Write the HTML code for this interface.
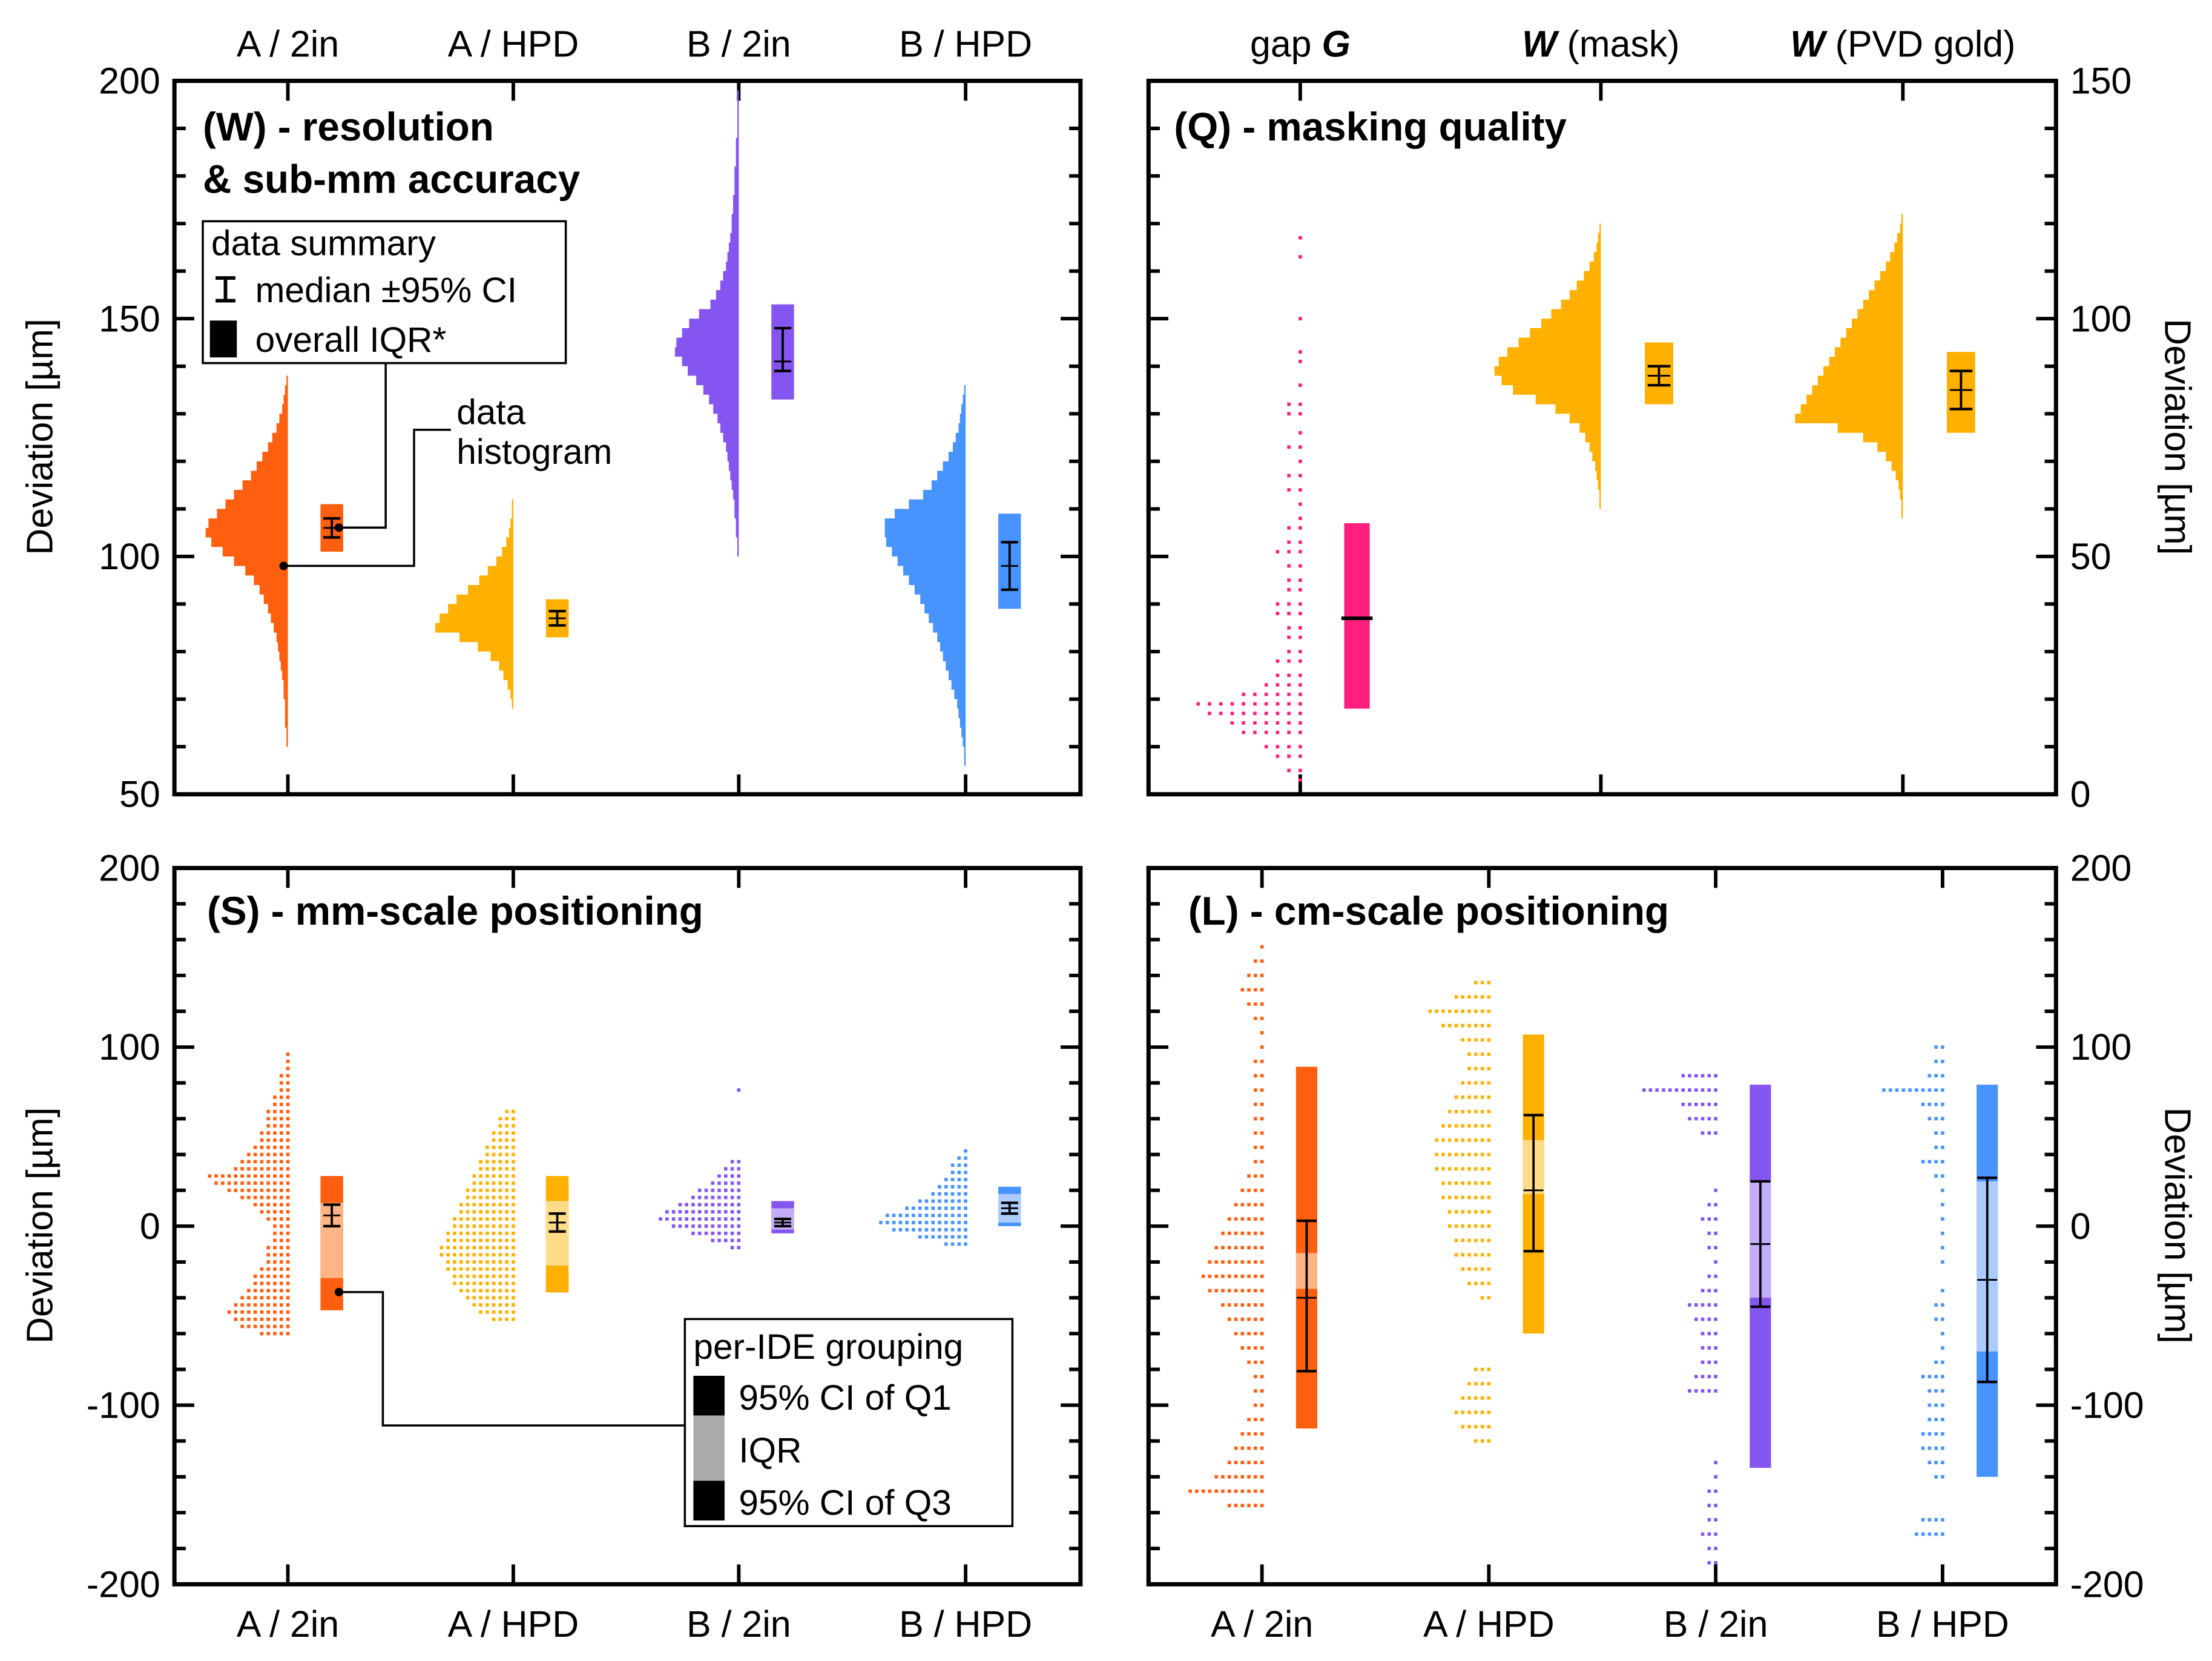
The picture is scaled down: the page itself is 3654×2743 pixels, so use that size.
<!DOCTYPE html>
<html><head><meta charset="utf-8"><style>
html,body{margin:0;padding:0;background:#fff}
svg{display:block}
text{font-family:"Liberation Sans",Arial,sans-serif;fill:#000}
</style></head><body>
<svg id="chart" width="3654" height="2743" viewBox="0 0 1560 1171.1" xmlns="http://www.w3.org/2000/svg"></svg>
<script>
// ---------- DATA ----------
const catsTop = ["A / 2in","A / HPD","B / 2in","B / HPD"];
const catsQ = ["gap","(mask)","(PVD gold)"];
// W histograms: [startValue, binWidth]
const wHistStart = [60,68,100,56];
const wHistCounts = [
 [1,1,2,2,2,3,3,4,5,6,7,8,10,12,14,17,20,24,30,38,46,54,58,56,50,44,38,32,26,22,18,14,11,8,6,4,3,2,1],
 [1,2,4,7,10,16,25,38,55,52,46,40,32,24,18,12,8,5,3,2,1,1],
 [1,1,2,2,3,3,4,5,6,7,8,9,11,13,15,18,21,25,30,36,40,45,44,40,35,28,20,16,13,11,9,8,7,6,5,5,4,4,3,3,3,2,2,2,1,1,1,1,1],
 [1,1,2,3,4,5,6,8,10,12,14,16,18,20,23,26,29,32,36,40,44,48,52,56,57,57,50,40,30,24,20,16,12,9,7,5,4,3,2,1]
];
const wIqrLo=[101,83,133,89], wIqrHi=[111,91,153,109];
const wMed=[106,87,141,98], wCiLo=[104,85.5,139,93], wCiHi=[108,88.5,148,103];
// Q panel
const qGapLevels=[3,5,8,10,13,15,17,19,21,23,25,28,30,33,35,38,40,43,45,48,51,53,56,58,61,64,67,70,73,76,80,82,86,91,93,100,113,117];
const qGapCounts=[1,2,3,4,6,7,9,10,6,4,3,3,2,2,2,3,3,2,2,2,3,2,2,1,1,2,2,1,2,1,2,2,1,1,1,1,1,1];
const qHistStart=[60,58];
const qHistCounts=[
 [1,1,2,3,4,6,8,11,15,22,32,46,62,70,75,72,66,58,50,42,35,28,22,17,12,8,5,3,2,1],
 [1,1,2,3,5,8,12,18,28,46,76,72,68,64,60,56,52,48,44,40,36,32,28,24,20,16,12,9,6,4,2,1]
];
const qIqrLo=[18,82,76], qIqrHi=[57,95,93], qMed=[37,88,85], qCiLo=[37,86,81], qCiHi=[37,90,89];
// S panel (dot rows, step 4 units)
const sStart=[-60,-52,-12,-10];
const sCounts=[
 [5,8,9,10,9,8,7,6,6,5,4,4,4,3,3,3,4,5,6,8,10,12,13,9,8,7,6,5,5,4,4,4,3,3,2,2,2,1,1,1],
 [4,6,7,8,9,10,10,11,11,12,12,11,11,10,10,9,9,8,8,7,7,6,6,5,5,4,4,3,3,2],
 [2,5,8,11,13,12,10,8,7,5,4,3,2],
 [4,8,12,14,13,10,8,6,5,4,3,3,2,1]
];
const sOutlier=[null,null,76,null];
const sBoxLo=[-47,-37,-4,0], sQ1=[-29,-22,-2,2], sQ3=[13,14,10,18], sBoxHi=[28,28,14,22];
const sMed=[6,2,2,10], sCiLo=[0,-3,0,7], sCiHi=[12,7,4,13];
// L panel (dot rows, step 8 units)
const lStart=[-156,-120,-188,-172];
const lCounts=[
 [6,12,8,6,5,4,3,2,2,2,3,4,5,6,7,9,10,9,8,7,6,5,4,3,2,2,2,2,2,2,2,2,1,1,2,3,4,3,2,1],
 [3,5,6,5,4,3,0,0,0,0,2,4,5,6,6,7,7,8,8,9,9,9,8,7,6,5,4,4,5,8,10,6,3],
 [2,2,3,2,2,2,1,1,0,0,0,0,5,4,3,3,3,4,5,3,2,1,2,2,3,2,1,0,0,0,3,5,6,12,6],
 [5,4,0,0,2,3,4,4,3,3,3,4,2,1,1,2,2,1,0,1,1,1,1,1,1,2,4,2,2,3,4,10,3,2,2]
];
const lBoxLo=[-113,-60,-135,-140], lQ1=[-35,18,-40,-70], lQ3=[-15,48,25,25], lBoxHi=[89,107,79,79];
const lMed=[-40,20,-10,-30], lCiLo=[-81,-14,-45,-87], lCiHi=[3,62,25,27];

const COL=["#ff5f0f","#ffb000","#8455f0","#4793ff"];
const LIGHT=["#ffb486","#ffdc8a","#c3acf8","#abcbff"];
const PINK="#ff1f7f";

// ---------- HELPERS ----------
const NS="http://www.w3.org/2000/svg";
const svg=document.getElementById('chart');
function el(tag,attrs,parent){const e=document.createElementNS(NS,tag);for(const k in attrs)e.setAttribute(k,attrs[k]);(parent||svg).appendChild(e);return e;}
function txt(s,x,y,size,anchor,weight,parent){const t=el('text',{x:x,y:y,'font-size':size,'text-anchor':anchor||'start','font-weight':weight||'normal'},parent);t.textContent=s;return t;}
function scale(v0,v1,p0,p1){return v=>p0+(v-v0)*(p1-p0)/(v1-v0);}

function frame(x0,y0,x1,y1,name){
  const g=el('g',{});
  
  
  el('rect',{x:x0,y:y0,width:x1-x0,height:y1-y0,fill:'none',stroke:'#000','stroke-width':3},g);
  return g;
}
function yTicks(g,x0,x1,y,vmin,vmax,minor,major,labelSide,labelFmt){
  for(let v=vmin;v<=vmax+1e-9;v+=minor){
    const isMaj=Math.abs(v/major-Math.round(v/major))<1e-6;
    const L=isMaj?14:8;const yy=y(v);
    el('line',{x1:x0,y1:yy,x2:x0+L,y2:yy,stroke:'#000','stroke-width':2.5},g);
    el('line',{x1:x1,y1:yy,x2:x1-L,y2:yy,stroke:'#000','stroke-width':2.5},g);
    if(isMaj){
      const t= labelSide==='left'?txt(String(v),x0-10,yy+9,26,'end',null,g):txt(String(v),x1+10,yy+9,26,'start',null,g);
      
      
    }
  }
}
function xTicks(g,xs,y0,y1){
  xs.forEach(x=>{
    el('line',{x1:x,y1:y0,x2:x,y2:y0+14,stroke:'#000','stroke-width':2.5},g);
    el('line',{x1:x,y1:y1,x2:x,y2:y1-14,stroke:'#000','stroke-width':2.5},g);
  });
}
function hist(g,cx,y,start,bw,counts,color,scaleW){
  let d='M'+cx+','+y(start);
  counts.forEach((c,i)=>{
    const xa=cx-c*scaleW;
    d+=' L'+xa+','+y(start+i*bw)+' L'+xa+','+y(start+(i+1)*bw);
  });
  d+=' L'+cx+','+y(start+counts.length*bw)+' Z';
  const p=el('path',{d:d,fill:color,stroke:'none'},g);
  
  
}
function dots(g,cx,y,levels,counts,color,sp){
  levels.forEach((v,i)=>{
    for(let k=0;k<counts[i];k++){
      const c=el('rect',{x:cx-1.2-k*sp,y:y(v)-1.2,width:2.4,height:2.4,fill:color},g);
      
      
    }
  });
}
function errbar(g,cx,y,lo,hi,med,w){
  el('line',{x1:cx,y1:y(lo),x2:cx,y2:y(hi),stroke:'#000','stroke-width':1.6},g);
  [lo,hi].forEach(v=>el('line',{x1:cx-w,y1:y(v),x2:cx+w,y2:y(v),stroke:'#000','stroke-width':1.8},g));
  el('line',{x1:cx-w,y1:y(med),x2:cx+w,y2:y(med),stroke:'#000','stroke-width':1.2},g);
}
function box(g,x,w,y,lo,hi,color){
  const r=el('rect',{x:x,y:y(hi),width:w,height:y(lo)-y(hi),fill:color},g);
  
  
}

// ---------- PANEL W ----------
{
  const g=frame(123,57,762,560,'panel-w');
  const y=scale(50,200,560,57);
  const cx=[203,362,521,681];
  yTicks(g,123,762,y,50,200,10,50,'left');
  xTicks(g,cx,57,560);
  cx.forEach((x,i)=>{
    hist(g,x,y,wHistStart[i],2,wHistCounts[i],COL[i],1);
    box(g,x+23,16,y,wIqrLo[i],wIqrHi[i],COL[i]);
    errbar(g,x+31,y,wCiLo[i],wCiHi[i],wMed[i],6);
    const t=txt(catsTop[i],x,40,26,'middle',null,g);
    
    
  });
  txt('(W) - resolution',143,99,28,'start','bold',g);
  txt('& sub-mm accuracy',143,136,28,'start','bold',g);
  const lg=el('g',{},g);
  
  
  el('rect',{x:143,y:156,width:256,height:100,fill:'#fff',stroke:'#000','stroke-width':1.5},lg);
  txt('data summary',149,180,25,'start',null,lg);
  el('path',{d:'M152,196 H166 M159,196 V212 M152,212 H166',stroke:'#000','stroke-width':2.5,fill:'none'},lg);
  txt('median ±95% CI',180,213,25,'start',null,lg);
  el('rect',{x:148,y:226,width:19,height:26,fill:'#000'},lg);
  txt('overall IQR*',180,248,25,'start',null,lg);
  el('path',{d:'M239,372 H272 V256',stroke:'#000','stroke-width':1.5,fill:'none'},g);
  el('circle',{cx:239,cy:372,r:3,fill:'#000'},g);
  el('path',{d:'M200,399 H292 V303 H318',stroke:'#000','stroke-width':1.5,fill:'none'},g);
  el('circle',{cx:200,cy:399,r:3,fill:'#000'},g);
  txt('data',322,299,25,'start',null,g);
  txt('histogram',322,327,25,'start',null,g);
  const yl=txt('Deviation [µm]',0,0,26,'middle',null,g);
  yl.setAttribute('transform','translate(37,308) rotate(-90)');
  
  
}
// ---------- PANEL Q ----------
{
  const g=frame(810,57,1450,560,'panel-q');
  const y=scale(0,150,560,57);
  const cx=[917,1129,1342];
  yTicks(g,810,1450,y,0,150,10,50,'right');
  xTicks(g,cx,57,560);
  dots(g,cx[0],y,qGapLevels,qGapCounts,PINK,8);
  box(g,948,18,y,qIqrLo[0],qIqrHi[0],PINK);
  el('line',{x1:946,y1:y(qMed[0]),x2:968,y2:y(qMed[0]),stroke:'#000','stroke-width':2.5},g);
  for(let i=1;i<3;i++){
    hist(g,cx[i],y,qHistStart[i-1],2,qHistCounts[i-1],COL[1],1);
    box(g,cx[i]+31,20,y,qIqrLo[i],qIqrHi[i],COL[1]);
    errbar(g,cx[i]+41,y,qCiLo[i],qCiHi[i],qMed[i],8);
  }
  const l1=el('text',{x:917,y:40,'font-size':26,'text-anchor':'middle'},g);
  l1.innerHTML='gap <tspan font-weight="bold" font-style="italic">G</tspan>';
  
  
  const l2=el('text',{x:1129,y:40,'font-size':26,'text-anchor':'middle'},g);
  l2.innerHTML='<tspan font-weight="bold" font-style="italic">W</tspan> (mask)';
  
  
  const l3=el('text',{x:1342,y:40,'font-size':26,'text-anchor':'middle'},g);
  l3.innerHTML='<tspan font-weight="bold" font-style="italic">W</tspan> (PVD gold)';
  
  
  txt('(Q) - masking quality',828,99,28,'start','bold',g);
  const yl=txt('Deviation [µm]',0,0,26,'middle',null,g);
  yl.setAttribute('transform','translate(1527,308) rotate(90)');
  
  
}
// ---------- PANEL S ----------
{
  const g=frame(123,612,762,1117,'panel-s');
  const y=scale(-200,200,1117,612);
  const cx=[203,362,521,681];
  yTicks(g,123,762,y,-200,200,20,100,'left');
  xTicks(g,cx,612,1117);
  cx.forEach((x,i)=>{
    const lv=sCounts[i].map((c,k)=>sStart[i]+4*k);
    dots(g,x,y,lv,sCounts[i],COL[i],4.6);
    if(sOutlier[i]!==null) dots(g,x,y,[sOutlier[i]],[1],COL[i],4.6);
    box(g,x+23,16,y,sBoxLo[i],sBoxHi[i],COL[i]);
    box(g,x+23,16,y,sQ1[i],sQ3[i],LIGHT[i]);
    errbar(g,x+31,y,sCiLo[i],sCiHi[i],sMed[i],6);
    const t=txt(catsTop[i],x,1154,26,'middle',null,g);
    
    
  });
  txt('(S) - mm-scale positioning',146,652,28,'start','bold',g);
  el('path',{d:'M239,911 H270 V1005 H487',stroke:'#000','stroke-width':1.5,fill:'none'},g);
  el('circle',{cx:239,cy:911,r:3,fill:'#000'},g);
  const lg=el('g',{},g);
  
  
  el('rect',{x:483,y:930,width:231,height:146,fill:'#fff',stroke:'#000','stroke-width':1.5},lg);
  txt('per-IDE grouping',489,958,25,'start',null,lg);
  el('rect',{x:489,y:970,width:22,height:28,fill:'#000'},lg);
  el('rect',{x:489,y:998,width:22,height:46,fill:'#aaa'},lg);
  el('rect',{x:489,y:1044,width:22,height:28,fill:'#000'},lg);
  txt('95% CI of Q1',521,994,25,'start',null,lg);
  txt('IQR',521,1031,25,'start',null,lg);
  txt('95% CI of Q3',521,1068,25,'start',null,lg);
  const yl=txt('Deviation [µm]',0,0,26,'middle',null,g);
  yl.setAttribute('transform','translate(37,864) rotate(-90)');
  
  
}
// ---------- PANEL L ----------
{
  const g=frame(810,612,1450,1117,'panel-l');
  const y=scale(-200,200,1117,612);
  const cx=[890,1050,1210,1370];
  yTicks(g,810,1450,y,-200,200,20,100,'right');
  xTicks(g,cx,612,1117);
  cx.forEach((x,i)=>{
    const lv=lCounts[i].map((c,k)=>lStart[i]+8*k);
    dots(g,x,y,lv,lCounts[i],COL[i],4.6);
    box(g,x+24,15,y,lBoxLo[i],lBoxHi[i],COL[i]);
    box(g,x+24,15,y,lQ1[i],lQ3[i],LIGHT[i]);
    errbar(g,x+31.5,y,lCiLo[i],lCiHi[i],lMed[i],7);
    const t=txt(catsTop[i],x,1154,26,'middle',null,g);
    
    
  });
  txt('(L) - cm-scale positioning',838,652,28,'start','bold',g);
  const yl=txt('Deviation [µm]',0,0,26,'middle',null,g);
  yl.setAttribute('transform','translate(1527,864) rotate(90)');
  
  
}
</script>
</body></html>
